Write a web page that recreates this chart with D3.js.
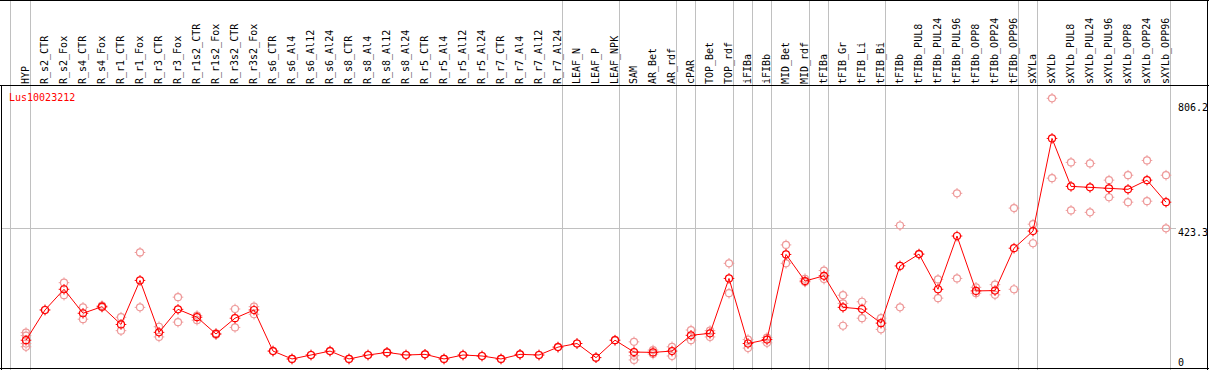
<!DOCTYPE html>
<html><head><meta charset="utf-8">
<script src="https://cdn.jsdelivr.net/npm/d3@7"></script>
<style>body{margin:0;background:#fff}svg{display:block}text{font-family:"DejaVu Sans Mono",monospace;font-size:10px}</style>
</head><body>
<script>
const categories = ["HYP","R_s2_CTR","R_s2_Fox","R_s4_CTR","R_s4_Fox","R_r1_CTR","R_r1_Fox","R_r3_CTR","R_r3_Fox","R_r1s2_CTR","R_r1s2_Fox","R_r3s2_CTR","R_r3s2_Fox","R_s6_CTR","R_s6_Al4","R_s6_Al12","R_s6_Al24","R_s8_CTR","R_s8_Al4","R_s8_Al12","R_s8_Al24","R_r5_CTR","R_r5_Al4","R_r5_Al12","R_r5_Al24","R_r7_CTR","R_r7_Al4","R_r7_Al12","R_r7_Al24","LEAF_N","LEAF_P","LEAF_NPK","SAM","AR_Bet","AR_rdf","cPAR","TOP_Bet","TOP_rdf","iFIBa","iFIBb","MID_Bet","MID_rdf","tFIBa","tFIB_Gr","tFIB_Li","tFIB_Bi","tFIBb","tFIBb_PUL8","tFIBb_PUL24","tFIBb_PUL96","tFIBb_OPP8","tFIBb_OPP24","tFIBb_OPP96","sXYLa","sXYLb","sXYLb_PUL8","sXYLb_PUL24","sXYLb_PUL96","sXYLb_OPP8","sXYLb_OPP24","sXYLb_OPP96"];
const means = [83,175,238,165,185,131,265,107,177,153,102,150,175,50,26,38,50,26,38,46,38,40,26,38,35,26,40,38,62,73,30,83,47,46,50,98,104,271,73,85,344,263,279,183,178,135,309,345,238,400,233,234,363,415,697,551,548,545,542,570,503];
const replicates = [[106,97,73,63],[175],[258,220],[183,147],[188,183],[153,112],[350,183],[124,93],[214,138],[144,158],[104,100],[178,122],[185,162],[50],[26],[38],[50],[26],[38],[46],[38],[40],[26],[38],[35],[26],[40],[38],[62],[73],[30],[83],[78,36,23],[53,41],[63,35],[114,83],[112,93],[317,226],[85,59],[91,75],[373,317],[270,260],[295,269],[220,195,127],[200,150],[150,116],[432,183],[345],[268,211],[530,271],[244,226],[252,221],[485,238],[436,378],[819,576],[624,478],[621,472],[570,518],[585,503],[630,506],[585,423.3]];
const groupEnds = ["HYP","R_r7_Al24","LEAF_NPK","AR_rdf","cPAR","TOP_rdf","iFIBa","iFIBb","MID_rdf","tFIBa","tFIB_Bi","tFIBb_OPP96","sXYLa","sXYLb_OPP96"];
const tickValues = [0, 423.3, 806.2];
const tickLabels = ["0","423.3","806.2"];
const geneName = "Lus10023212";

const W = 1209, H = 370;
const svg = d3.select("body").append("svg").attr("width", W).attr("height", H);
svg.append("rect").attr("width", W).attr("height", H).attr("fill", "#fff");

const band = d3.scaleBand().domain(categories).range([11.5, 11.5 + 19*categories.length]).paddingInner(0).paddingOuter(0);
const xp = c => band(c) + 14.5;
const y = d3.scaleLinear().domain([0, 806.2]).range([367.5, 102.5]);

// grid
const grid = svg.append("g").attr("stroke", "#c0c0c0").attr("stroke-width", 1);
grid.append("line").attr("x1", 10.5).attr("x2", 10.5).attr("y1", 0).attr("y2", H);
groupEnds.forEach(c => {
  const gx = band(c) + band.bandwidth();
  grid.append("line").attr("x1", gx).attr("x2", gx).attr("y1", 0).attr("y2", H);
});
grid.append("line").attr("x1", 1).attr("x2", 1176).attr("y1", Math.round(y(423.3)) + 0.5).attr("y2", Math.round(y(423.3)) + 0.5);

// frame
const frame = svg.append("g").attr("stroke", "#000").attr("stroke-width", 1).attr("fill", "none");
frame.append("line").attr("x1", 0).attr("x2", W).attr("y1", 0.5).attr("y2", 0.5);
frame.append("line").attr("x1", 0).attr("x2", W).attr("y1", 85.5).attr("y2", 85.5);
frame.append("line").attr("x1", 0).attr("x2", W).attr("y1", 368.5).attr("y2", 368.5);
frame.append("line").attr("x1", 1.5).attr("x2", 1.5).attr("y1", 85).attr("y2", H);
frame.append("line").attr("x1", 1207.5).attr("x2", 1207.5).attr("y1", 0).attr("y2", H);

// header labels
svg.append("g").selectAll("text").data(categories).join("text")
  .attr("transform", c => `translate(${xp(c) + 2.5},84) rotate(-90)`)
  .attr("fill", "#000").text(c => c);

// gene name
svg.append("text").attr("x", 9).attr("y", 100.5).attr("fill", "#ff0000").text(geneName);

// right axis labels
svg.append("g").selectAll("text").data(tickValues).join("text")
  .attr("x", 1178)
  .attr("y", (v, i) => i === 0 ? 365.5 : y(v) + 8)
  .attr("fill", "#000").text((v, i) => tickLabels[i]);

function marker(g, cx, cy, color) {
  const r = 3.5;
  g.append("circle").attr("cx", cx).attr("cy", cy).attr("r", r).attr("fill", "none").attr("stroke", color).attr("stroke-width", 1.2);
  [[0,-1],[0,1],[-1,0],[1,0]].forEach(([dx,dy]) => {
    g.append("line").attr("x1", cx + dx*r).attr("y1", cy + dy*r).attr("x2", cx + dx*(r+1.8)).attr("y2", cy + dy*(r+1.8))
      .attr("stroke", color).attr("stroke-width", 1);
  });
}

// replicates
const rg = svg.append("g");
categories.forEach((c, i) => {
  replicates[i].forEach(v => marker(rg, xp(c), y(v), "#ee9a9a"));
});

// mean line
const line = d3.line().x((d, i) => xp(categories[i])).y(d => y(d));
svg.append("path").datum(means).attr("d", line).attr("fill", "none").attr("stroke", "#ff0000").attr("stroke-width", 1);

// mean markers
const mg = svg.append("g");
categories.forEach((c, i) => marker(mg, xp(c), y(means[i]), "#ff0000"));
</script>
</body></html>
